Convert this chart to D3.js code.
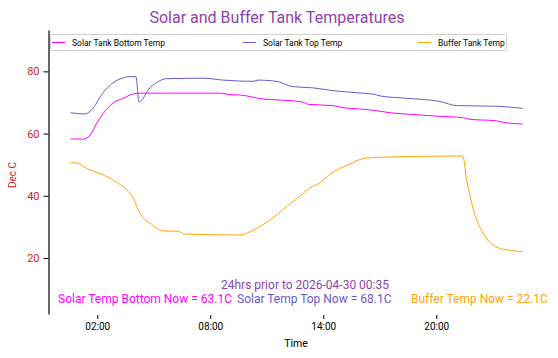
<!DOCTYPE html>
<html>
<head>
<meta charset="utf-8">
<script src="https://cdn.jsdelivr.net/npm/d3@7"></script>
<style>
  body { margin: 0; background: #fff; }
  svg { display: block; font-family: Roboto, "Noto Sans", sans-serif; }
</style>
</head>
<body>
<svg id="chart" width="558" height="358"></svg>
<script>
// ---- Data ----
const seriesNames = ["Solar Tank Bottom Temp", "Solar Tank Top Temp", "Buffer Tank Temp"];
const seriesColors = ["#ff00ff", "#6a5acd", "#ffa500"];

const bottomTimes = ["2026-04-29T00:35","2026-04-29T01:15","2026-04-29T01:37","2026-04-29T01:58","2026-04-29T02:19","2026-04-29T02:51","2026-04-29T03:23","2026-04-29T03:44","2026-04-29T04:16","2026-04-29T08:31","2026-04-29T09:03","2026-04-29T09:35","2026-04-29T10:49","2026-04-29T11:42","2026-04-29T12:56","2026-04-29T13:12","2026-04-29T14:32","2026-04-29T15:04","2026-04-29T15:57","2026-04-29T16:39","2026-04-29T17:33","2026-04-29T18:36","2026-04-29T20:01","2026-04-29T21:26","2026-04-29T21:47","2026-04-29T23:12","2026-04-29T23:33","2026-04-30T00:35"];
const bottomTemps = [58.3,58.2,59.5,63.3,66.5,69.9,71.35,72.4,73.0,73.0,72.5,72.4,71.1,70.8,70.1,69.4,69.0,68.3,67.9,67.5,66.7,66.2,65.6,65.1,64.6,64.1,63.6,63.1];

const topTimes = ["2026-04-29T00:35","2026-04-29T01:21","2026-04-29T01:42","2026-04-29T02:18","2026-04-29T02:50","2026-04-29T03:22","2026-04-29T03:38","2026-04-29T04:03","2026-04-29T04:13","2026-04-29T04:22","2026-04-29T04:42","2026-04-29T05:09","2026-04-29T05:41","2026-04-29T07:37","2026-04-29T08:40","2026-04-29T10:16","2026-04-29T10:32","2026-04-29T11:36","2026-04-29T11:58","2026-04-29T12:23","2026-04-29T13:27","2026-04-29T14:31","2026-04-29T15:57","2026-04-29T16:38","2026-04-29T17:01","2026-04-29T18:26","2026-04-29T20:12","2026-04-29T21:05","2026-04-29T23:12","2026-04-30T00:35"];
const topTemps = [66.7,66.3,67.6,73.1,76.3,77.9,78.3,78.3,70.2,70.8,74.0,76.4,77.65,77.8,77.2,76.8,77.2,76.7,75.9,75.1,74.7,73.8,73.05,72.7,72.1,71.35,70.3,69.0,68.8,68.1];

const bufferTimes = ["2026-04-29T00:35","2026-04-29T00:54","2026-04-29T01:26","2026-04-29T02:19","2026-04-29T03:07","2026-04-29T03:34","2026-04-29T03:55","2026-04-29T04:11","2026-04-29T04:27","2026-04-29T04:48","2026-04-29T05:30","2026-04-29T06:18","2026-04-29T06:39","2026-04-29T09:35","2026-04-29T10:17","2026-04-29T11:10","2026-04-29T12:03","2026-04-29T12:46","2026-04-29T13:18","2026-04-29T13:50","2026-04-29T14:21","2026-04-29T14:53","2026-04-29T15:25","2026-04-29T16:02","2026-04-29T17:01","2026-04-29T19:29","2026-04-29T21:24","2026-04-29T21:37","2026-04-29T21:53","2026-04-29T22:09","2026-04-29T22:30","2026-04-29T22:57","2026-04-29T23:44","2026-04-30T00:35"];
const bufferTemps = [50.6,50.6,48.8,46.7,44.0,41.9,39.2,35.4,32.8,31.2,28.7,28.6,27.7,27.4,29.0,32.2,36.5,39.9,42.6,44.2,46.9,48.8,50.2,51.8,52.4,52.7,52.8,45.1,37.6,32.2,27.9,24.4,22.6,22.1];

const yTickValues = [20, 40, 60, 80];
const xTickTimes = ["2026-04-29T02:00","2026-04-29T08:00","2026-04-29T14:00","2026-04-29T20:00"];
const titleText = "Solar and Buffer Tank Temperatures";
const subtitleText = "24hrs prior to 2026-04-30 00:35";
const nowTexts = ["Solar Temp Bottom Now = 63.1C", "Solar Temp Top Now = 68.1C", "Buffer Temp Now = 22.1C"];

// ---- Chart ----
const parse = d3.timeParse("%Y-%m-%dT%H:%M");
const svg = d3.select("#chart");

const x = d3.scaleTime()
  .domain([parse("2026-04-29T00:35"), parse("2026-04-30T00:35")])
  .range([70.6, 522.6]);
const y = d3.scaleLinear().domain([2, 93.3]).range([314, 30]);

// Title
svg.append("text").attr("x", 277).attr("y", 23).attr("text-anchor", "middle")
  .attr("font-size", 16).attr("fill", "#8e44ad").text(titleText);

// Y axis
const yAxis = svg.append("g").attr("transform", "translate(48.5,0)")
  .call(d3.axisLeft(y).tickValues(yTickValues).tickSize(5).tickSizeOuter(0).tickPadding(4));
yAxis.select(".domain").attr("stroke", "#000").attr("stroke-width", 1.2);
yAxis.selectAll(".tick line").attr("stroke", "#000");
yAxis.selectAll(".tick text").attr("fill", "#cc1f1f").attr("font-size", 11)
  .attr("font-family", "Roboto, sans-serif");

svg.append("text").attr("transform", "translate(16,175) rotate(-90)")
  .attr("text-anchor", "middle").attr("font-size", 10).attr("fill", "#cc1f1f").text("Dec C");

// X axis (ticks only)
const xAxis = svg.append("g").attr("transform", "translate(0,314)")
  .call(d3.axisBottom(x).tickValues(xTickTimes.map(parse)).tickFormat(d3.timeFormat("%H:%M"))
    .tickSize(4).tickSizeOuter(0).tickPadding(5));
xAxis.select(".domain").remove();
xAxis.selectAll(".tick line").attr("stroke", "#000").attr("transform", "translate(0,1)");
xAxis.selectAll(".tick text").attr("fill", "#000").attr("font-size", 10)
  .attr("font-family", "Roboto, sans-serif");
svg.append("text").attr("x", 296).attr("y", 347).attr("text-anchor", "middle")
  .attr("font-size", 10.5).attr("fill", "#000").text("Time");

// Lines
const line = d3.line().x(d => x(d[0])).y(d => y(d[1])).curve(d3.curveMonotoneX);
const series = [
  bottomTimes.map((t, i) => [parse(t), bottomTemps[i]]),
  topTimes.map((t, i) => [parse(t), topTemps[i]]),
  bufferTimes.map((t, i) => [parse(t), bufferTemps[i]])
];
series.forEach((s, i) => {
  svg.append("path").datum(s).attr("d", line).attr("fill", "none")
    .attr("stroke", seriesColors[i]).attr("stroke-width", 1);
});

// Legend
const legend = svg.append("g");
legend.append("rect").attr("x", 50.5).attr("y", 34.5).attr("width", 456).attr("height", 16)
  .attr("fill", "#fff").attr("stroke", "#d0d0d0").attr("stroke-width", 1).attr("rx", 1);
const legendX = [52, 243, 418];
seriesNames.forEach((n, i) => {
  legend.append("line").attr("x1", legendX[i]).attr("x2", legendX[i] + 13)
    .attr("y1", 42.5).attr("y2", 42.5).attr("stroke", seriesColors[i]).attr("stroke-width", 1);
  legend.append("text").attr("x", legendX[i] + 20).attr("y", 45.5)
    .attr("font-size", 8.5).attr("fill", "#000").text(n);
});

// Bottom annotations
svg.append("text").attr("x", 305).attr("y", 288.5).attr("text-anchor", "middle")
  .attr("font-size", 12).attr("fill", "#8e44ad").text(subtitleText);
const nowX = [58, 237, 411];
const nowColors = ["#ff00ff", "#6a5acd", "#ffa500"];
nowTexts.forEach((t, i) => {
  svg.append("text").attr("x", nowX[i]).attr("y", 302.5).attr("font-size", 12)
    .attr("fill", nowColors[i]).text(t);
});
</script>
</body>
</html>
